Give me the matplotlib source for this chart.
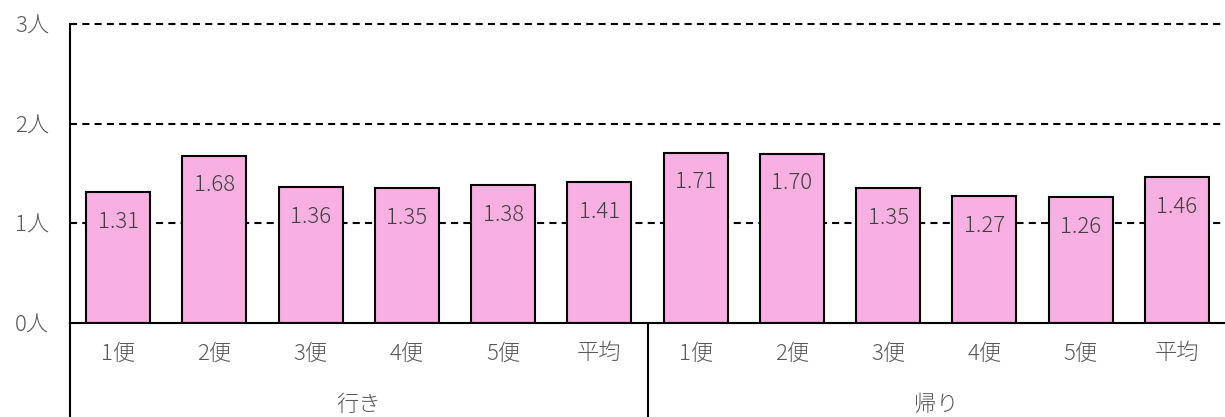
import matplotlib
matplotlib.use("Agg")
import matplotlib.pyplot as plt
from matplotlib.lines import Line2D

plt.rcParams['font.family'] = ['Noto Sans CJK JP', 'DejaVu Sans']

categories = ['1便', '2便', '3便', '4便', '5便', '平均',
              '1便', '2便', '3便', '4便', '5便', '平均']
groups = ['行き', '帰り']
group_sizes = [6, 6]
values = [1.31, 1.68, 1.36, 1.35, 1.38, 1.41,
          1.71, 1.70, 1.35, 1.27, 1.26, 1.46]
yticks = [0, 1, 2, 3]
ytick_labels = ['0人', '1人', '2人', '3人']

W, H = 1225, 417
fig = plt.figure(figsize=(W / 100, H / 100), dpi=100)
left, right = 70 / W, 1.0
bottom, top = 1 - 323 / H, 1 - 24 / H
ax = fig.add_axes([left, bottom, right - left, top - bottom])

n = len(values)
x = list(range(n))
ax.set_xlim(-0.5, n - 0.5)
ax.set_ylim(0, 3)

for yv in [1, 2, 3]:
    ax.axhline(yv, color='black', lw=1.5, ls=(0, (3.4, 2.5)), zorder=1,
               clip_on=False)

bars = ax.bar(x, values, width=0.665, color='#F8B0E3', edgecolor='black',
              linewidth=1.5, zorder=2)

FONT_W = 'light'
for xi, v in zip(x, values):
    ax.annotate(f'{v:.2f}', xy=(xi, v), xytext=(0, -25.5),
                textcoords='offset points', ha='center', va='baseline',
                fontsize=16, color='#404040', fontweight=FONT_W, zorder=3)

for s in ['top', 'right', 'bottom']:
    ax.spines[s].set_visible(False)
ax.spines['left'].set_linewidth(1.5)
ax.axhline(0, color='black', lw=1.5, zorder=3, clip_on=False)

ax.set_yticks(yticks)
ax.set_yticklabels(ytick_labels, fontsize=16, color='#595959',
                   fontweight=FONT_W)
ax.tick_params(axis='y', length=0, pad=15)
ax.set_xticks(x)
ax.set_xticklabels(categories, fontsize=16, color='#595959',
                   fontweight=FONT_W)
ax.tick_params(axis='x', length=0, pad=14)

# vertical divider lines below axis
trans = ax.get_xaxis_transform()
bounds = [-0.5]
acc = -0.5
for g in group_sizes[:-1]:
    acc += g
    bounds.append(acc)
y_fig_bottom = -bottom / (top - bottom)
for b in bounds:
    ax.add_line(Line2D([b, b], [0, y_fig_bottom], transform=trans,
                       color='black', lw=1.5, clip_on=False))

start = 0
y_group = 1 - (405 - 24) / (323 - 24)
for g, size in zip(groups, group_sizes):
    cx = start + (size - 1) / 2
    ax.text(cx, y_group, g, transform=trans, ha='center', va='center',
            fontsize=16, color='#595959', fontweight=FONT_W)
    start += size

fig.savefig('out.png', dpi=100)
